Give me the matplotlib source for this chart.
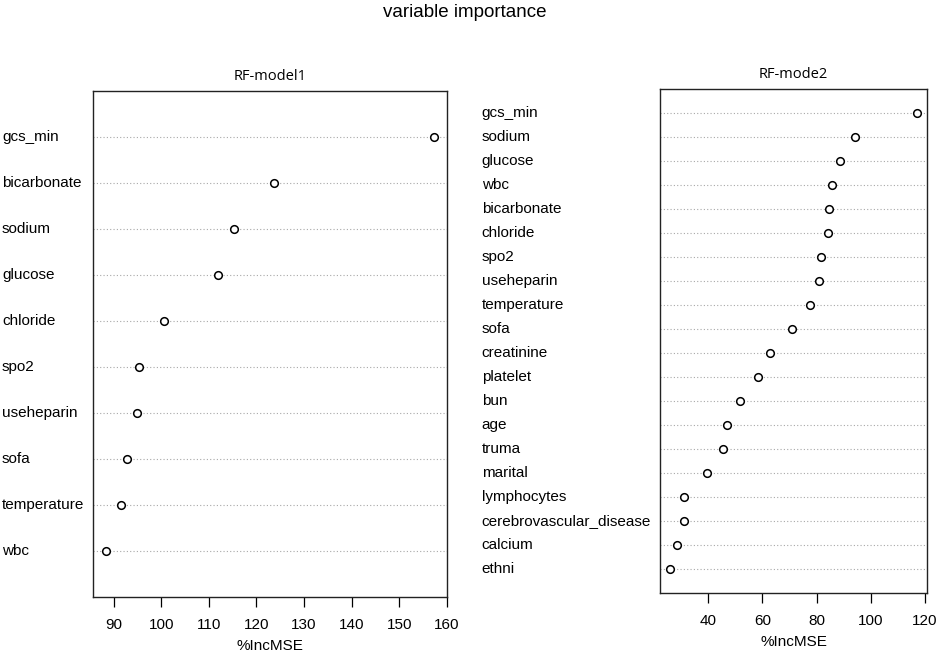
import matplotlib
matplotlib.use("Agg")
import matplotlib.pyplot as plt
import matplotlib.transforms as mtransforms

# RF-model1 variables, top to bottom
vars1 = ["gcs_min", "bicarbonate", "sodium", "glucose", "chloride",
         "spo2", "useheparin", "sofa", "temperature", "wbc"]
imp1 = [157.3, 123.8, 115.3, 111.9, 100.6, 95.3, 95.0, 92.9, 91.5, 88.4]
ticks1 = [90, 100, 110, 120, 130, 140, 150, 160]

# RF-mode2 variables, top to bottom
vars2 = ["gcs_min", "sodium", "glucose", "wbc", "bicarbonate", "chloride",
         "spo2", "useheparin", "temperature", "sofa", "creatinine",
         "platelet", "bun", "age", "truma", "marital", "lymphocytes",
         "cerebrovascular_disease", "calcium", "ethni"]
imp2 = [117.1, 94.1, 88.7, 85.6, 84.5, 84.1, 81.8, 81.0, 77.7, 70.8,
        63.0, 58.4, 51.7, 46.9, 45.5, 39.5, 31.2, 31.1, 28.6, 25.9]
ticks2 = [40, 60, 80, 100, 120]

plt.rcParams['font.family'] = ['Liberation Sans', 'DejaVu Sans']


def dotchart(fig, ax, names, values, ticks, title, label_x):
    n = len(names)
    ypos = list(range(n, 0, -1))
    for y in ypos:
        ax.axhline(y, color='#a8a8a8', ls=(0, (1, 2)), lw=0.8, zorder=1)
    ax.plot(values, ypos, ls='none', marker='o', ms=5.5, mfc='w',
            mec='k', mew=1.1, zorder=3)
    lo, hi = min(values), max(values)
    ext = 0.04 * (hi - lo)
    ax.set_xlim(lo - ext, hi + ext)
    ax.set_ylim(0, n + 1)
    ax.set_yticks([])
    ax.set_xticks(ticks)
    ax.tick_params(axis='x', direction='out', length=7, width=0.9,
                   pad=8, labelsize=11)
    ax.set_xlabel("%IncMSE", fontsize=11, labelpad=5)
    for s in ax.spines.values():
        s.set_linewidth(1.0)
        s.set_color('#222222')
    trans = mtransforms.blended_transform_factory(fig.transFigure,
                                                  ax.transData)
    for name, y in zip(names, ypos):
        ax.text(label_x, y, name, transform=trans, ha='left',
                va='center', fontsize=11)
    ax.set_title(title, family=['Open Sans', 'DejaVu Sans'],
                 fontsize=10.5, pad=8)


fig = plt.figure(figsize=(9.41, 6.52), dpi=100)
ax1 = fig.add_axes([0.0988, 0.0844, 0.3762, 0.776])
ax2 = fig.add_axes([0.7014, 0.0900, 0.2837, 0.773])

dotchart(fig, ax1, vars1, imp1, ticks1, "RF-model1", 0.002)
dotchart(fig, ax2, vars2, imp2, ticks2, "RF-mode2", 0.512)

fig.text(0.494, 0.981, "variable importance", ha='center', va='center',
         fontsize=13.5)

fig.savefig("out.png", dpi=100)
